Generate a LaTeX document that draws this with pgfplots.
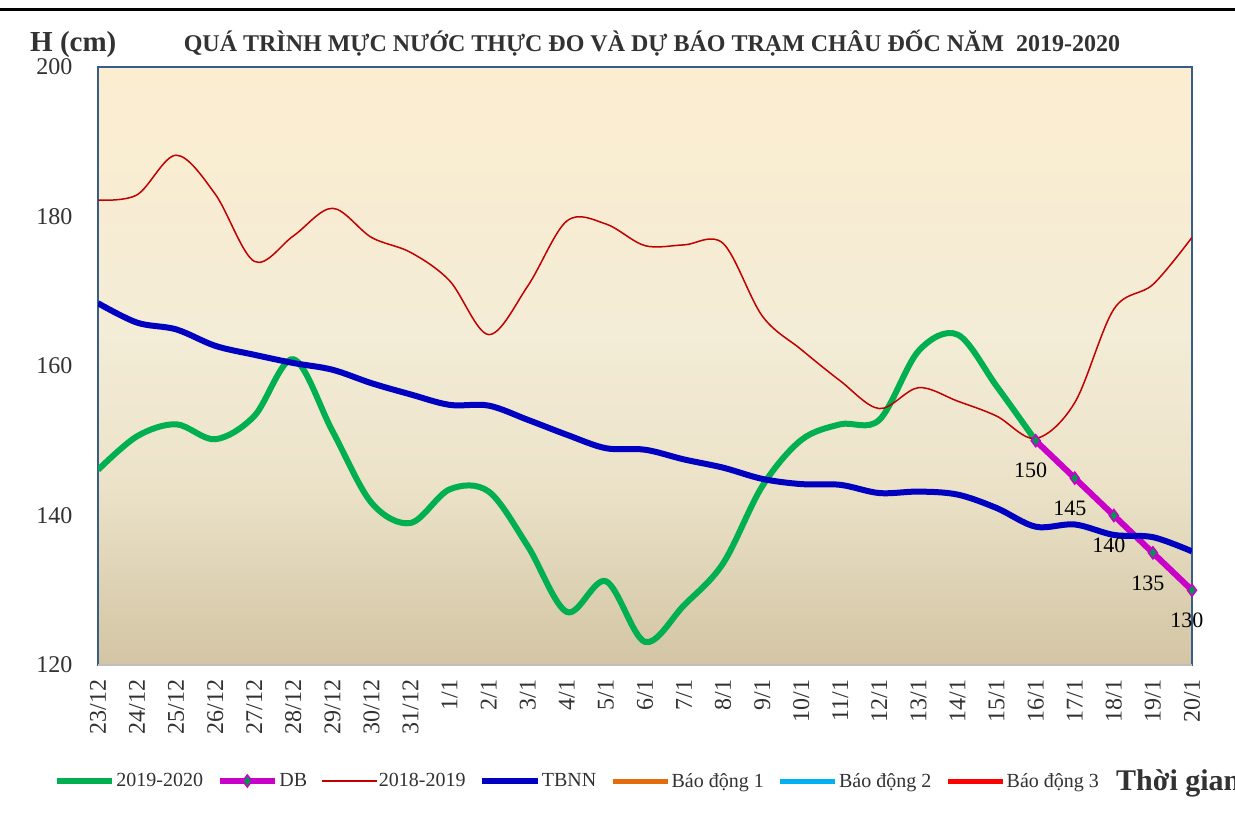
\documentclass[border=0pt]{standalone}
\usepackage{fontspec}
\setmainfont{Liberation Serif}
\usepackage{pgfplots}
\usepackage{pgfplotstable}
\pgfplotsset{compat=1.18}
\definecolor{cGreen}{RGB}{0,176,80}
\definecolor{cMag}{RGB}{200,0,200}
\definecolor{cRed}{RGB}{192,0,0}
\definecolor{cBlue}{RGB}{0,0,192}
\definecolor{cOrange}{RGB}{228,108,10}
\definecolor{cCyan}{RGB}{0,176,240}
\definecolor{cAlarm}{RGB}{255,0,0}
\definecolor{cFrame}{RGB}{56,93,138}
\definecolor{cText}{RGB}{50,50,50}
\definecolor{cMark}{RGB}{0,150,80}
\definecolor{bgA}{RGB}{252,237,208}
\definecolor{bgB}{RGB}{243,236,214}
\definecolor{bgB2}{RGB}{235,226,200}
\definecolor{bgC}{RGB}{211,197,164}
\pgfdeclareverticalshading{bgshade}{100bp}{color(0bp)=(bgC); color(25bp)=(bgC); color(40bp)=(bgB2); color(52.5bp)=(bgB); color(75bp)=(bgA); color(100bp)=(bgA)}

\pgfplotstableread{
x g r b
0 146.1 182.2 168.4
1 150.6 182.9 165.8
2 152.2 188.2 164.9
3 150.2 183.0 162.7
4 153.3 174.0 161.5
5 160.9 177.4 160.4
6 151.3 181.1 159.5
7 141.7 177.2 157.7
8 139.0 175.2 156.2
9 143.5 171.4 154.8
10 143.2 164.2 154.7
11 135.9 170.7 152.8
12 127.1 179.4 150.8
13 131.2 179.0 149.0
14 123.1 176.1 148.8
15 128.0 176.2 147.5
16 133.6 176.4 146.4
17 143.9 166.7 144.9
18 150.1 162.2 144.2
19 152.2 158.0 144.1
20 152.8 154.3 143.0
21 162.0 157.1 143.2
22 164.2 155.3 142.8
23 157.3 153.3 141.0
24 150.0 150.3 138.5
25 nan 155.1 138.8
26 nan 167.6 137.4
27 nan 170.9 137.1
28 nan 177.2 135.2
}\main

\pgfplotstableread{
x db
24 150
25 145
26 140
27 135
28 130
}\dbtab

\begin{document}
\begin{tikzpicture}
\useasboundingbox (0,0) rectangle (1235pt,827pt);
\fill[white] (0,0) rectangle (1235pt,827pt);
\draw[line width=3pt, black] (0,817pt) -- (1235pt,817pt);
\node[anchor=base west, font=\bfseries\fontsize{29}{29}\selectfont, text=cText, inner sep=0pt] at (30pt,775pt) {H (cm)};
\node[anchor=base, font=\bfseries\fontsize{24}{24}\selectfont, text=cText, inner sep=0pt] at (652pt,775pt) {QUÁ TRÌNH MỰC NƯỚC THỰC ĐO VÀ DỰ BÁO TRẠM CHÂU ĐỐC NĂM\ \ 2019-2020};
\node[anchor=base west, font=\bfseries\fontsize{30}{30}\selectfont, text=cText, inner sep=0pt] at (1116pt,36pt) {Thời gian};
\begin{axis}[
  at={(98pt,162pt)}, anchor=south west,
  scale only axis, width=1094pt, height=598pt,
  xmin=0, xmax=28, ymin=120, ymax=200,
  xtick={0,...,28},
  xticklabels={23/12,24/12,25/12,26/12,27/12,28/12,29/12,30/12,31/12,1/1,2/1,3/1,4/1,5/1,6/1,7/1,8/1,9/1,10/1,11/1,12/1,13/1,14/1,15/1,16/1,17/1,18/1,19/1,20/1},
  ytick={120,140,...,200},
  major tick length=0pt,
  tick label style={font=\fontsize{24}{24}\selectfont, text=cText},
  xticklabel style={rotate=90, anchor=east},
  xticklabel shift=11pt,
  yticklabel shift=22pt,
  /pgf/number format/assume math mode=true,
  axis background/.style={shading=bgshade},
  axis line style={draw=cFrame, line width=1.3pt},
  legend columns=-1,
  legend style={at={(-0.0405,-0.194)}, anchor=west, draw=none, fill=none,
    font=\fontsize{20}{20}\selectfont, text=cText, inner sep=0pt,
    nodes={inner sep=1.5pt},
    /tikz/every even column/.append style={column sep=12.3pt}},
  legend image code/.code={\draw[mark repeat=2, mark phase=2, #1] plot coordinates {(0pt,0pt) (27.5pt,0pt) (55pt,0pt)};},
  after end axis/.code={\draw[line width=2pt, black!25] (rel axis cs:0,0) -- (rel axis cs:1,0);},
]
\addplot[cGreen, line width=6pt, smooth, tension=0.55] table[x=x, y=g] {\main};
\addlegendentry{2019-2020}
\addplot[cMag, line width=6pt, mark=diamond*, mark size=6pt,
  mark options={fill=cMark, draw=cMag, line width=1.5pt},
  nodes near coords,
  every node near coord/.append style={anchor=center, xshift=-5pt, yshift=-30pt, font=\fontsize{22}{22}\selectfont, text=black}] table[x=x, y=db] {\dbtab};
\addlegendentry{DB}
\addplot[cRed, line width=1.5pt, smooth, tension=0.55] table[x=x, y=r] {\main};
\addlegendentry{2018-2019}
\addplot[cBlue, line width=6pt, smooth, tension=0.55] table[x=x, y=b] {\main};
\addlegendentry{TBNN}
\addplot[cOrange, line width=5pt] coordinates {(0,350) (28,350)};
\addlegendentry{Báo động 1}
\addplot[cCyan, line width=5pt] coordinates {(0,400) (28,400)};
\addlegendentry{Báo động 2}
\addplot[cAlarm, line width=5pt] coordinates {(0,450) (28,450)};
\addlegendentry{Báo động 3}
\end{axis}
\end{tikzpicture}
\end{document}
